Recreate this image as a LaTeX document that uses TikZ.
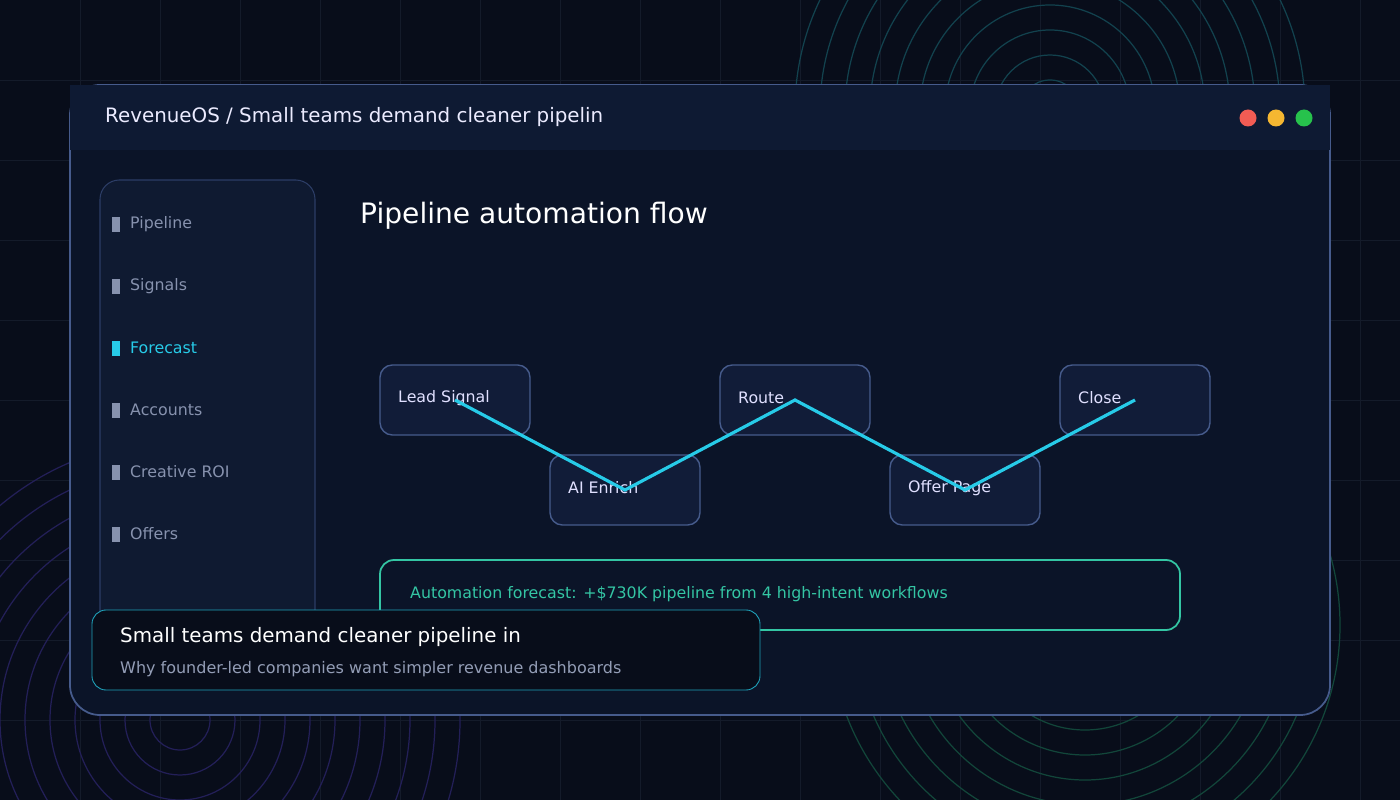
\documentclass[tikz,border=0pt]{standalone}
\usepackage{fontspec}
\setmainfont{DejaVu Sans}
\usetikzlibrary{positioning}
\definecolor{bgdark}{HTML}{080D1A}
\definecolor{gridc}{HTML}{141B2A}
\definecolor{winfill}{HTML}{0B1428}
\definecolor{headfill}{HTML}{0E1A33}
\definecolor{winedge}{HTML}{465B8C}
\definecolor{sidefill}{HTML}{0F1A31}
\definecolor{sideedge}{HTML}{2C3D66}
\definecolor{menugray}{HTML}{8792AE}
\definecolor{cyanline}{HTML}{27CBE8}
\definecolor{tealc}{HTML}{34C6A4}
\definecolor{stepfill}{HTML}{111C38}
\definecolor{ringpurple}{HTML}{231F58}
\definecolor{ringteal}{HTML}{12424E}
\definecolor{ringgreen}{HTML}{12463A}
\definecolor{dotred}{HTML}{F25C54}
\definecolor{dotyellow}{HTML}{F5B731}
\definecolor{dotgreen}{HTML}{27C24C}
\begin{document}
\begin{tikzpicture}[x=0.02cm,y=-0.02cm,
    stepnode/.style={draw=winedge, fill=stepfill, rounded corners=7pt, line width=0.8pt,
        minimum width=3cm, minimum height=1.4cm},
    steptext/.style={text=white!88!blue, font=\fontsize{9}{11}\selectfont, anchor=west},
    menutext/.style={text=menugray, font=\fontsize{9}{11}\selectfont, anchor=west},
]
    % background and grid
    \fill[bgdark] (0,0) rectangle (1400,800);
    \useasboundingbox (0,0) rectangle (1400,800);
    \foreach \gx in {80,160,...,1360} \draw[gridc, line width=0.5pt] (\gx,0) -- (\gx,800);
    \foreach \gy in {80,160,...,720} \draw[gridc, line width=0.5pt] (0,\gy) -- (1400,\gy);

    % rings
    \foreach \r in {30,55,...,280} \draw[ringpurple, line width=0.7pt] (180,720) circle (\r);
    \foreach \r in {30,55,...,255} \draw[ringteal, line width=0.7pt] (1050,110) circle (\r);
    \foreach \r in {30,55,...,255} \draw[ringgreen, line width=0.7pt] (1085,625) circle (\r);

    % window
    \draw[winedge, fill=winfill, rounded corners=17pt, line width=1pt] (70,85) rectangle (1330,715);
    \fill[headfill] (70,85) rectangle (1330,150);
    \node[text=white!92!blue, font=\fontsize{11.3}{13}\selectfont, anchor=west] (head) at (99,117)
        {RevenueOS / Small teams demand cleaner pipelin};
    \fill[dotred] (1248,118) circle (8.5);
    \fill[dotyellow] (1276,118) circle (8.5);
    \fill[dotgreen] (1304,118) circle (8.5);

    % sidebar
    \draw[sideedge, fill=sidefill, rounded corners=11pt, line width=0.6pt] (100,180) rectangle (315,680);
    \foreach \ty/\lbl in {224/Pipeline, 286/Signals, 410/Accounts, 472/Creative ROI, 534/Offers} {
        \fill[menugray] (112,\ty-7) rectangle (120,\ty+8);
        \node[menutext] at (124,\ty) {\lbl};
    }
    \fill[cyanline] (112,341) rectangle (120,356);
    \node[menutext, text=cyanline] (forecast) at (124,348) {Forecast};

    % title
    \node[text=white, font=\fontsize{16}{19}\selectfont, anchor=west] (title) at (354,216) {Pipeline automation flow};

    % steps
    \node[stepnode] (lead) at (455,400) {};
    \node[stepnode] (enrich) at (625,490) {};
    \node[stepnode] (route) at (795,400) {};
    \node[stepnode] (offer) at (965,490) {};
    \node[stepnode] (close) at (1135,400) {};
    \node[steptext] at (392,398) {Lead Signal};
    \node[steptext] at (562,488) {AI Enrich};
    \node[steptext] at (732,398) {Route};
    \node[steptext] at (902,488) {Offer Page};
    \node[steptext] at (1072,398) {Close};
    \draw[cyanline, line width=1.8pt] (lead.center) -- (enrich.center) -- (route.center)
        -- (offer.center) -- (close.center);

    % forecast box
    \draw[tealc, fill=winfill, rounded corners=8pt, line width=1pt] (380,560) rectangle (1180,630);
    \node[text=tealc, font=\fontsize{9}{11}\selectfont, anchor=west] (fc) at (404,594)
        {Automation forecast: +\$730K pipeline from 4 high-intent workflows};

    % caption
    \draw[cyanline!80!black, fill=bgdark, rounded corners=8pt, line width=0.5pt] (92,610) rectangle (760,690);
    \node[text=white, font=\fontsize{11.3}{13}\selectfont, anchor=west] (cap) at (114,637)
        {Small teams demand cleaner pipeline in};
    \node[text=menugray!90!white, font=\fontsize{9.1}{11}\selectfont, anchor=west] (sub) at (114,669)
        {Why founder-led companies want simpler revenue dashboards};
\end{tikzpicture}
\end{document}
